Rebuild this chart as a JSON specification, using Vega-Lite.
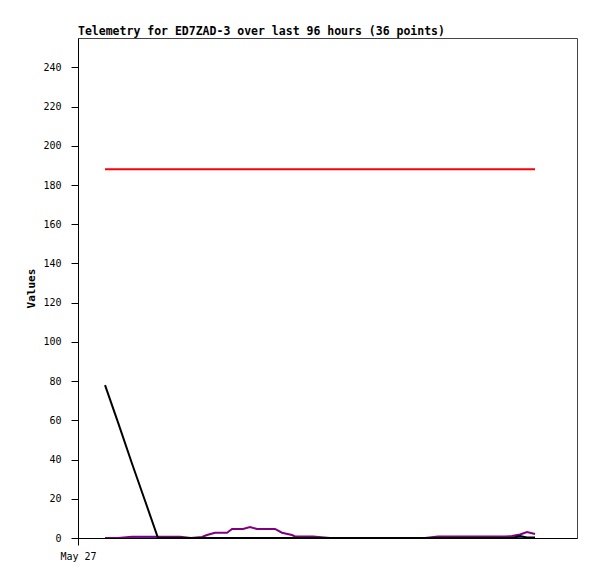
{
  "$schema": "https://vega.github.io/schema/vega-lite/v6.json",
  "autosize": {"type": "none"},
  "padding": {"left": 78, "top": 38, "right": 20, "bottom": 41},
  "width": 499,
  "height": 500,
  "title": {
    "text": "Telemetry for ED7ZAD-3 over last 96 hours (36 points)",
    "anchor": "start",
    "frame": "group",
    "font": "DejaVu Sans Mono",
    "fontSize": 11.5,
    "fontWeight": "bold",
    "color": "#000000",
    "offset": 1
  },
  "config": {
    "view": {"stroke": "#444444", "strokeWidth": 1},
    "axis": {
      "labelFont": "DejaVu Sans Mono",
      "labelFontSize": 10,
      "labelColor": "#000000",
      "titleFont": "DejaVu Sans Mono",
      "titleColor": "#000000",
      "domainColor": "#000000",
      "tickColor": "#000000",
      "grid": false
    }
  },
  "data": {
    "values": [
      {"t": "2024-05-27T05:25", "A1": 188, "A2": 78, "A3": 0, "A4": 0},
      {"t": "2024-05-27T08:01", "A1": 188, "A2": 59, "A3": 0, "A4": 0},
      {"t": "2024-05-27T10:49", "A1": 188, "A2": 38, "A3": 0, "A4": 0.6},
      {"t": "2024-05-27T13:26", "A1": 188, "A2": 19, "A3": 0, "A4": 0.6},
      {"t": "2024-05-27T16:02", "A1": 188, "A2": 0, "A3": 0, "A4": 0.6},
      {"t": "2024-05-27T18:26", "A1": 188, "A2": 0, "A3": 0, "A4": 0.6},
      {"t": "2024-05-27T20:26", "A1": 188, "A2": 0, "A3": 0, "A4": 0.6},
      {"t": "2024-05-27T22:39", "A1": 188, "A2": 0, "A3": 0, "A4": 0},
      {"t": "2024-05-28T00:51", "A1": 188, "A2": 0, "A3": 0, "A4": 0.5},
      {"t": "2024-05-28T01:51", "A1": 188, "A2": 0, "A3": 0, "A4": 1.5},
      {"t": "2024-05-28T03:27", "A1": 188, "A2": 0, "A3": 0, "A4": 2.7},
      {"t": "2024-05-28T05:52", "A1": 188, "A2": 0, "A3": 0, "A4": 2.7},
      {"t": "2024-05-28T06:52", "A1": 188, "A2": 0, "A3": 0, "A4": 4.6},
      {"t": "2024-05-28T09:04", "A1": 188, "A2": 0, "A3": 0, "A4": 4.6},
      {"t": "2024-05-28T10:28", "A1": 188, "A2": 0, "A3": 0, "A4": 5.6},
      {"t": "2024-05-28T11:52", "A1": 188, "A2": 0, "A3": 0, "A4": 4.6},
      {"t": "2024-05-28T15:29", "A1": 188, "A2": 0, "A3": 0, "A4": 4.6},
      {"t": "2024-05-28T16:53", "A1": 188, "A2": 0, "A3": 0, "A4": 2.7},
      {"t": "2024-05-28T18:53", "A1": 188, "A2": 0, "A3": 0, "A4": 1.5},
      {"t": "2024-05-28T19:29", "A1": 188, "A2": 0, "A3": 0, "A4": 0.8},
      {"t": "2024-05-28T23:05", "A1": 188, "A2": 0, "A3": 0, "A4": 0.8},
      {"t": "2024-05-29T02:30", "A1": 188, "A2": 0, "A3": 0, "A4": 0},
      {"t": "2024-05-29T06:31", "A1": 188, "A2": 0, "A3": 0, "A4": 0},
      {"t": "2024-05-29T10:31", "A1": 188, "A2": 0, "A3": 0, "A4": 0},
      {"t": "2024-05-29T14:32", "A1": 188, "A2": 0, "A3": 0, "A4": 0},
      {"t": "2024-05-29T18:32", "A1": 188, "A2": 0, "A3": 0, "A4": 0},
      {"t": "2024-05-29T21:32", "A1": 188, "A2": 0, "A3": 0, "A4": 0},
      {"t": "2024-05-30T00:08", "A1": 188, "A2": 0, "A3": 0, "A4": 0.8},
      {"t": "2024-05-30T03:33", "A1": 188, "A2": 0, "A3": 0, "A4": 0.8},
      {"t": "2024-05-30T07:34", "A1": 188, "A2": 0, "A3": 0, "A4": 0.8},
      {"t": "2024-05-30T11:34", "A1": 188, "A2": 0, "A3": 0, "A4": 0.8},
      {"t": "2024-05-30T13:34", "A1": 188, "A2": 0, "A3": 0, "A4": 0.8},
      {"t": "2024-05-30T14:58", "A1": 188, "A2": 0, "A3": 0, "A4": 1},
      {"t": "2024-05-30T16:35", "A1": 188, "A2": 1, "A3": 0, "A4": 1.8},
      {"t": "2024-05-30T17:59", "A1": 188, "A2": 0.3, "A3": 0, "A4": 3},
      {"t": "2024-05-30T19:35", "A1": 188, "A2": 0.3, "A3": 0, "A4": 2}
    ]
  },
  "encoding": {
    "x": {
      "field": "t",
      "type": "temporal",
      "scale": {"domain": ["2024-05-27T00:00", "2024-05-31T04:00"]},
      "axis": {
        "title": null,
        "values": ["2024-05-27T00:00"],
        "format": "%b %d",
        "tickSize": 7,
        "labelPadding": 6,
        "labelAlign": "center"
      }
    }
  },
  "layer": [
    {
      "mark": {"type": "line", "color": "#0066cc", "strokeWidth": 2, "clip": true},
      "encoding": {
        "y": {
          "field": "A3",
          "type": "quantitative",
          "scale": {"domain": [0, 255], "nice": false, "zero": true},
          "axis": {
            "title": "Values",
            "titleFontWeight": "bold",
            "titleFontSize": 11,
            "titlePadding": 6,
            "values": [0, 20, 40, 60, 80, 100, 120, 140, 160, 180, 200, 220, 240],
            "tickSize": 7,
            "labelPadding": 10
          }
        }
      }
    },
    {
      "mark": {"type": "line", "color": "#800080", "strokeWidth": 2, "clip": true},
      "encoding": {"y": {"field": "A4", "type": "quantitative"}}
    },
    {
      "mark": {"type": "line", "color": "#000000", "strokeWidth": 2, "clip": true},
      "encoding": {"y": {"field": "A2", "type": "quantitative"}}
    },
    {
      "mark": {"type": "line", "color": "#ff0000", "strokeWidth": 2, "clip": true},
      "encoding": {"y": {"field": "A1", "type": "quantitative"}}
    }
  ]
}
